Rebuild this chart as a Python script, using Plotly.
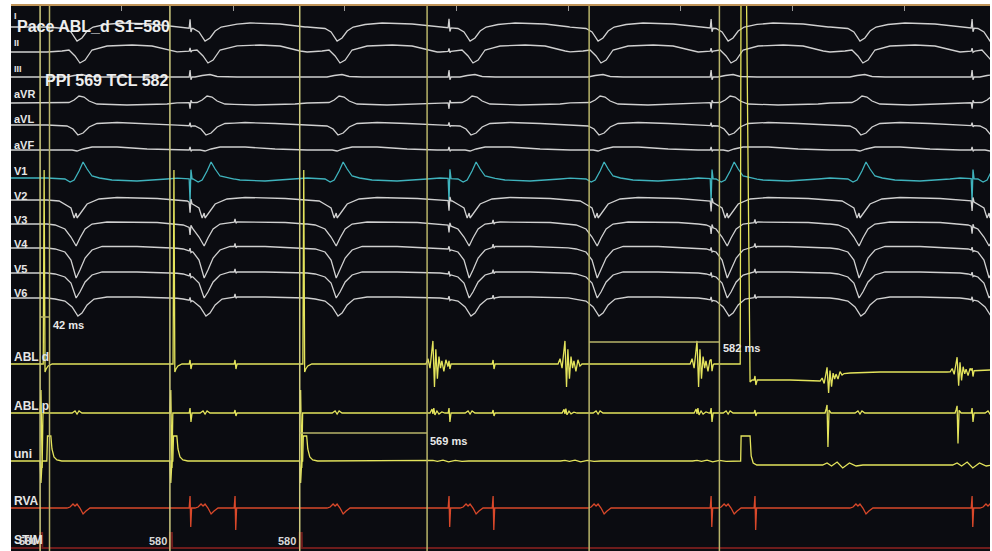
import numpy as np
import plotly.graph_objects as go

# ---------------- data (times in ms from the left edge of the window) ----------------
T_END = 4374
stim_ms = [130, 710, 1290]            # S1 pacing from ABL_d, 580 ms
extra_stim_ms = [3262]
beat_ms = [295, 867, 1457, 2051, 2623, 3204, 3793, 4374]   # surface QRS reference
farfield_a_ms = [800, 1957, 3128, 4294]
farfield_b_ms = [1001, 2154, 3324]
abl_local_ms = [1885, 2475, 3065, 3646, 4227]
abl_d_local_gain = [1.05, 1.05, 1.05, 0.6, 0.65]
abl_p_local_gain = [1.0, 0.9, 1.0, 0.0, 0.0]
abl_p_big_gain = [0.0, 0.0, 0.0, 1.0, 0.9]
uni_local_gain = [0.3, 0.3, 0.3, 1.0, 1.0]
uni_pulse_delay_ms = [30, 13, 13]

caliper_start_ms = [130, 1290, 2583]
caliper_value_ms = [42, 569, 582]
s1_ms = 580

leads = ["I", "II", "III", "aVR", "aVL", "aVF", "V1", "V2", "V3", "V4", "V5", "V6"]

# beat templates: offsets (ms) and amplitudes
ecg_t = {
    "I":   [-134, -54, -27, 0, 22, 45, 72, 125, 201, 335, 447],
    "II":  [-134, -67, -36, -9, 13, 36, 67, 134, 246, 335, 425, 447],
    "III": [-134, -45, -13, 22, 54, 112, 447],
    "aVR": [-134, -36, -13, 9, 31, 54, 89, 223, 402, 447],
    "aVL": [-134, -45, -18, 4, 27, 54, 89, 179, 313, 447],
    "aVF": [-134, -22, 0, 27, 67, 179, 313, 447],
    "V1":  [-134, -54, -31, -13, 9, 27, 45, 67, 100, 156, 268, 402, 447],
    "V2":  [-134, -80, -49, -27, -13, -4, 0, 22, 45, 98, 179, 358, 447],
    "V3":  [-134, -98, -54, -27, -4, 13, 36, 67, 134, 358, 447],
    "V4":  [-134, -98, -54, -27, -4, 13, 36, 67, 112, 268, 447],
    "V5":  [-134, -98, -54, -27, -4, 13, 36, 67, 112, 268, 447],
    "V6":  [-134, -98, -54, -22, 4, 22, 45, 76, 134, 268, 447],
}
ecg_a = {
    "I":   [0, -1.5, -5, -14, -11, -4, 0, 2.5, 4, 3, 0],
    "II":  [0, 1, 2, -4, -11, -8, 2, 6, 7, 6, 1, 0],
    "III": [0, 0, 1.5, 2.5, 0.5, 0, 0],
    "aVR": [0, 0.5, 3, 7, 6, 2, -1, -2, -1, 0],
    "aVL": [0, -1, -4, -10, -8, -2, 1.5, 2.5, 1.5, 0],
    "aVF": [0, 0, -1, 1, 3, 3, 1, 0],
    "V1":  [0, -1, -4, -2, 7, 16, 9, 2, 0, -2, -3, -1, 0],
    "V2":  [0, -1, -5, -8, -18, -13, -18, -11, -4, 1, 2.5, 1.5, 0],
    "V3":  [0, -1, -5, -13, -22, -14, -5, 0, 2, 1.5, 0],
    "V4":  [0, -1, -4, -12, -30, -22, -10, -2, 1.5, 1.5, 0],
    "V5":  [0, -1, -4, -10, -25, -19, -9, -2, 1, 1, 0],
    "V6":  [0, -1, -3, -9, -18, -15, -7, -1, 1, 1, 0],
}
spike_t = [-4, 0, 4, 9]
spike_a = [0, 1, -0.4, 0]
ecg_spike_a_amp = {"I": 9, "II": 3, "III": 7, "aVR": -6, "aVL": 3, "aVF": 3,
                   "V1": -23, "V2": -10, "V3": -7, "V4": 3, "V5": 3, "V6": 3}
ecg_spike_b_amp = {"I": 0, "II": 0, "III": 0, "aVR": 0, "aVL": 0, "aVF": 0,
                   "V1": 0, "V2": 0, "V3": 3, "V4": 3, "V5": 3, "V6": 3}

abl_local_t = [-31, -22, -13, -7, 0, 7, 13, 20, 27, 34, 40, 49, 58, 67, 76]
abl_local_a = [0, 5, -4, 8, 22, -22, 14, -14, 7, -4, 3, -7, 4, -2, 0]
abl_far_t = [-4, 0, 4, 9]
abl_far_a = [0, 4, -5, 0]
abl_d_stim_t = [14, 18, 22, 27, 36, 54]
abl_d_stim_a = [0, 194, -8, -5, -2, 0]
abl_d_extra_t = [-4, 0, 13, 22, 40, 49, 72, 219, 308, 380, 440, 487, 621, 920, 1113, 1200]
abl_d_extra_a = [0, 420, 420, 420, -18, -16, -16, -16, -17, -17, -10, -9, -8, -8, -6, -6]

ablp_local_t = [-13, -4, 0, 4, 9, 18, 27, 40, 54]
ablp_local_a = [0, 4, -1, 5, -2, 2, -1, 1, 0]
ablp_big_t = [-9, -4, 0, 4, 9, 18]
ablp_big_a = [0, 4, 8, -34, 3, 0]
ablp_far_a_amp = [0, 5, -9, 0]
ablp_far_b_amp = [0, 3, -3, 0]
ablp_stim_t = [0, 4, 9, 13]
ablp_stim_a = [0, 23, -55, 0]
ablp_beat_t = [-22, -9, 0, 9, 22, 36]
ablp_beat_a = [0, 2, -1, 2, 0, 0]

uni_spike_t = [0, 4, 9]
uni_spike_a = [0, -22, 0]
uni_pulse_t = [0, 3, 18, 23, 32, 45, 67]
uni_pulse_a = [0, 25, 25, 12, 4, 1, 0]
uni_extra_t = [-5, -2, 0, 40, 45, 54, 70, 1200]
uni_extra_a = [0, 0, 25, 25, 5, -2, -4, -4]
uni_local_t = [-20, 0, 20, 45, 70, 100, 130, 160]
uni_local_a = [0, 2, -1, 3, -3, 2, -1, 0]

rva_beat_t = [-45, -31, -18, -9, 0, 13, 27, 40, 58]
rva_beat_a = [0, 1, 4, 2, 4, 0, -6, -3, 0]
rva_far_t = [-4, 0, 3, 7]
rva_far_a_amp = [0, 12, -19, 0]
rva_far_b_amp = [0, 12, -22, 0]

stim_ch_t = [-1, 0, 9, 10]
stim_ch_a = [0, 15, 15, 0]

# ---------------- layout config (positions / styles) ----------------
base_y = {"I": 27, "II": 52, "III": 77, "aVR": 103, "aVL": 125, "aVF": 150, "V1": 178,
          "V2": 200, "V3": 224, "V4": 248, "V5": 273, "V6": 298,
          "ABL d": 364, "ABL p": 413, "uni": 461, "RVA": 508, "STIM": 548}
label_y = {"I": 16, "II": 43, "III": 69, "aVR": 94, "aVL": 119, "aVF": 145, "V1": 171,
           "V2": 196, "V3": 220, "V4": 244, "V5": 269, "V6": 293,
           "ABL d": 357, "ABL p": 406, "uni": 454, "RVA": 501, "STIM": 540}
BG = "#0b0c11"
GRAY = "#d0d0d0"
CYAN = "#3fb3bd"
YEL = "#e4e45c"
RVA_C = "#d9482a"
STIM_C = "#6e1c1c"
LINE_C = "#b9b56a"


def compose(components):
    xs = {0.0, float(T_END)}
    for times, toff, amp, gains in components:
        for t0 in times:
            for dt in toff:
                xs.add(float(t0 + dt))
    xs = np.array(sorted(x for x in xs if 0 <= x <= T_END + 400))
    y = np.zeros_like(xs)
    for times, toff, amp, gains in components:
        for t0, g in zip(times, gains):
            y += g * np.interp(xs, t0 + np.array(toff, float), np.array(amp, float),
                               left=0.0, right=0.0)
    return xs, y


def ones(n):
    return [1.0] * len(n)


fig = go.Figure()

for ld in leads:
    comps = [
        (beat_ms, ecg_t[ld], ecg_a[ld], ones(beat_ms)),
        (farfield_a_ms, spike_t, [v * ecg_spike_a_amp[ld] for v in spike_a], ones(farfield_a_ms)),
        (farfield_b_ms, spike_t, [v * ecg_spike_b_amp[ld] for v in spike_a], ones(farfield_b_ms)),
    ]
    x, a = compose(comps)
    fig.add_trace(go.Scatter(x=x, y=base_y[ld] - a, mode="lines",
                             line=dict(color=CYAN if ld == "V1" else GRAY, width=1.3),
                             hoverinfo="skip", showlegend=False))

# ABL d
x, a = compose([
    (abl_local_ms, abl_local_t, abl_local_a, abl_d_local_gain),
    (farfield_a_ms, abl_far_t, abl_far_a, ones(farfield_a_ms)),
    (farfield_b_ms, abl_far_t, abl_far_a, ones(farfield_b_ms)),
    (stim_ms, abl_d_stim_t, abl_d_stim_a, ones(stim_ms)),
    (extra_stim_ms, abl_d_extra_t, abl_d_extra_a, ones(extra_stim_ms)),
])
fig.add_trace(go.Scatter(x=x, y=base_y["ABL d"] - a, mode="lines",
                         line=dict(color=YEL, width=1.3), hoverinfo="skip", showlegend=False))

# ABL p
x, a = compose([
    (abl_local_ms, ablp_local_t, ablp_local_a, abl_p_local_gain),
    (abl_local_ms, ablp_big_t, ablp_big_a, abl_p_big_gain),
    (farfield_a_ms, abl_far_t, ablp_far_a_amp, ones(farfield_a_ms)),
    (farfield_b_ms, abl_far_t, ablp_far_b_amp, ones(farfield_b_ms)),
    (stim_ms, ablp_stim_t, ablp_stim_a, ones(stim_ms)),
    (beat_ms, ablp_beat_t, ablp_beat_a, ones(beat_ms)),
])
fig.add_trace(go.Scatter(x=x, y=base_y["ABL p"] - a, mode="lines",
                         line=dict(color=YEL, width=1.3), hoverinfo="skip", showlegend=False))

# uni
pulse_ms = [s + d for s, d in zip(stim_ms, uni_pulse_delay_ms)]
x, a = compose([
    (stim_ms, uni_spike_t, uni_spike_a, ones(stim_ms)),
    (pulse_ms, uni_pulse_t, uni_pulse_a, ones(pulse_ms)),
    (extra_stim_ms, uni_extra_t, uni_extra_a, ones(extra_stim_ms)),
    (abl_local_ms, uni_local_t, uni_local_a, uni_local_gain),
])
fig.add_trace(go.Scatter(x=x, y=base_y["uni"] - a, mode="lines",
                         line=dict(color=YEL, width=1.3), hoverinfo="skip", showlegend=False))

# RVA
x, a = compose([
    (beat_ms, rva_beat_t, rva_beat_a, ones(beat_ms)),
    (farfield_a_ms, rva_far_t, rva_far_a_amp, ones(farfield_a_ms)),
    (farfield_b_ms, rva_far_t, rva_far_b_amp, ones(farfield_b_ms)),
])
fig.add_trace(go.Scatter(x=x, y=base_y["RVA"] - a, mode="lines",
                         line=dict(color=RVA_C, width=1.3), hoverinfo="skip", showlegend=False))

# STIM
x, a = compose([(stim_ms, stim_ch_t, stim_ch_a, ones(stim_ms))])
fig.add_trace(go.Scatter(x=x, y=base_y["STIM"] - a, mode="lines",
                         line=dict(color=STIM_C, width=2), hoverinfo="skip", showlegend=False))

# ---------------- markers / calipers ----------------
shapes = []
for t in stim_ms:
    shapes.append(dict(type="line", xref="x", yref="paper", x0=t, x1=t, y0=0, y1=1,
                       line=dict(color="#cfcc80", width=1.5)))
cal_y = [317, 433, 342]
for s, v, cy in zip(caliper_start_ms, caliper_value_ms, cal_y):
    e = s + v
    shapes.append(dict(type="line", xref="x", yref="y", x0=s, x1=e, y0=cy, y1=cy,
                       line=dict(color=LINE_C, width=1.5)))
    shapes.append(dict(type="line", xref="x", yref="paper", x0=e, x1=e, y0=0, y1=1,
                       line=dict(color=LINE_C, width=1.5)))
    if s not in stim_ms:
        shapes.append(dict(type="line", xref="x", yref="paper", x0=s, x1=s, y0=0, y1=1,
                           line=dict(color=LINE_C, width=1.5)))

annotations = []
for name in list(leads) + ["ABL d", "ABL p", "uni", "RVA", "STIM"]:
    size = 9 if name in ("I", "II", "III") else (11 if name in leads else 12)
    annotations.append(dict(text="<b>%s</b>" % name, x=0.001, xref="paper", y=label_y[name],
                            yref="y", xanchor="left", yanchor="middle", showarrow=False,
                            font=dict(family="Liberation Sans, Arial", size=size, color="#e6e6e6")))

annotations.append(dict(text="<b>Pace ABL_d S1=%d</b>" % s1_ms, x=0.004, xref="paper", y=26, yref="y",
                        xanchor="left", yanchor="middle", showarrow=False,
                        font=dict(family="Liberation Sans, Arial", size=16, color="#eeeeee")))
annotations.append(dict(text="<b>PPI %d TCL %d</b>" % (caliper_value_ms[1], caliper_value_ms[2]),
                        x=0.033, xref="paper", y=80, yref="y", xanchor="left", yanchor="middle",
                        showarrow=False,
                        font=dict(family="Liberation Sans, Arial", size=16, color="#eeeeee")))
cal_text_y = [325, 441, 348]
for s, v, ty in zip(caliper_start_ms, caliper_value_ms, cal_text_y):
    annotations.append(dict(text="<b>%d ms</b>" % v, x=s + v + 6, xref="x", y=ty, yref="y",
                            xanchor="left", yanchor="middle", showarrow=False,
                            font=dict(family="Liberation Sans, Arial", size=11, color="#e8e8e8")))
for t in stim_ms:
    annotations.append(dict(text="<b>%d</b>" % s1_ms, x=t - 6, xref="x", y=541, yref="y",
                            xanchor="right", yanchor="middle", showarrow=False,
                            font=dict(family="Liberation Sans, Arial", size=11, color="#d8d8d8")))

fig.update_layout(
    width=992, height=551,
    margin=dict(l=11, r=2, t=6, b=0, pad=0),
    paper_bgcolor="white", plot_bgcolor=BG,
    shapes=shapes, annotations=annotations,
    xaxis=dict(range=[0, T_END], side="top", showline=True, linecolor="#c0955a", linewidth=2,
               ticks="inside", ticklen=5, tickcolor="#9a9a9a", tick0=492, dtick=500,
               showticklabels=False, showgrid=False, zeroline=False, fixedrange=True),
    yaxis=dict(range=[551, 6], visible=False, showgrid=False, zeroline=False, fixedrange=True),
)

fig.write_html("out.html", config={"displayModeBar": False},
               post_script="document.body.style.margin='0';document.body.style.overflow='hidden';")
